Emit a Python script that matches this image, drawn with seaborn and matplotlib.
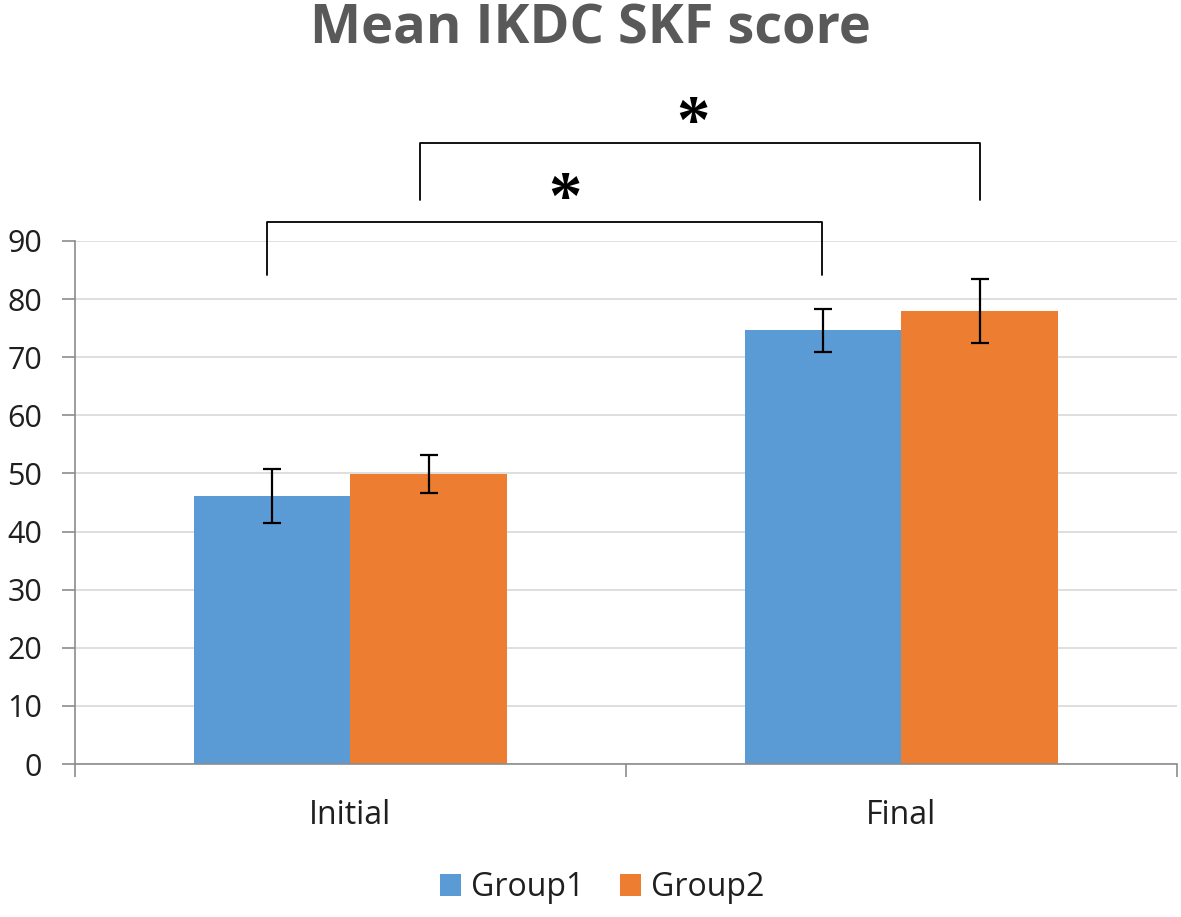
import matplotlib
matplotlib.use("Agg")
import matplotlib.pyplot as plt
import numpy as np
import pandas as pd
import seaborn as sns

# values
TIMEPOINTS = ["Initial", "Final"]
GROUPS = ["Group1", "Group2"]
GROUP1_MEAN = [46.1, 74.6]
GROUP2_MEAN = [49.9, 78.0]
GROUP1_ERR = [4.7, 3.7]
GROUP2_ERR = [3.2, 5.5]
Y_TICKS = [0, 10, 20, 30, 40, 50, 60, 70, 80, 90]
TITLE = "Mean IKDC SKF score"

COLORS = {"Group1": "#5B9BD5", "Group2": "#ED7D31"}
TEXT = "#1F1F1F"
AXIS = "#8C8C8C"
GRID = "#D9D9D9"

df = pd.DataFrame({
    "time": TIMEPOINTS * 2,
    "group": [GROUPS[0]] * 2 + [GROUPS[1]] * 2,
    "score": GROUP1_MEAN + GROUP2_MEAN,
    "err": GROUP1_ERR + GROUP2_ERR,
})

sns.set_theme(style="white")
plt.rcParams["font.family"] = ["Open Sans", "DejaVu Sans"]

fig = plt.figure(figsize=(11.81, 9.17), dpi=100)
ax = fig.add_axes([0.0635, 0.1668, 0.9331, 0.5704])

sns.barplot(data=df, x="time", y="score", hue="group", order=TIMEPOINTS,
            hue_order=GROUPS, palette=COLORS, width=0.567, gap=0,
            errorbar=None, saturation=1, linewidth=0, ax=ax)

# error bars on the bar centres seaborn placed
for patch, (_, row) in zip(ax.patches, df.iterrows()):
    cx = patch.get_x() + patch.get_width() / 2
    ax.errorbar(cx, patch.get_height(), yerr=row["err"], color="black",
                capsize=6.5, capthick=1.6, elinewidth=1.6, zorder=5)

ax.set_xlim(-0.5, 1.5)
ax.set_ylim(0, 90)
ax.set_yticks(Y_TICKS)
ax.yaxis.grid(True, color=GRID, linewidth=1.2)
ax.set_axisbelow(True)
ax.set_xlabel("")
ax.set_ylabel("")

for side in ["top", "right"]:
    ax.spines[side].set_visible(False)
for side in ["left", "bottom"]:
    ax.spines[side].set_color(AXIS)
    ax.spines[side].set_linewidth(1.2)

ax.tick_params(axis="y", left=True, length=9.5, width=1.2, color=AXIS,
               labelsize=22, labelcolor=TEXT, pad=14)
ax.tick_params(axis="x", which="major", bottom=False, length=0,
               labelsize=23, labelcolor=TEXT, pad=25)
ax.set_xticks([-0.5, 0.5, 1.5], minor=True)
ax.tick_params(axis="x", which="minor", bottom=True, length=9,
               width=1.2, color=AXIS)

# significance brackets: (x_left, x_right, y_bar, y_leg, x_star, y_star)
brackets = [
    (-0.152, 0.856, 93.3, 84.2, 0.389, 96.9),
    (0.126, 1.142, 106.9, 97.1, 0.622, 110.1),
]
for x0, x1, yb, yl, xs, ys in brackets:
    ax.plot([x0, x0, x1, x1], [yl, yb, yb, yl], color="black",
            linewidth=1.3, clip_on=False)
    ax.text(xs, ys, "*", ha="center", va="center", fontsize=48,
            family=["Liberation Serif"], fontweight="bold", color="black")

leg = ax.legend(loc="center", bbox_to_anchor=(0.51, 0.032),
                bbox_transform=fig.transFigure, ncol=2, frameon=False,
                fontsize=23, handlelength=0.66, handleheight=0.66,
                columnspacing=1.1, handletextpad=0.32)
for t in leg.get_texts():
    t.set_color(TEXT)

fig.text(0.5, 0.968, TITLE, ha="center", va="center", fontsize=39,
         fontweight="bold", color="#595959")

fig.savefig("out.png", dpi=100)
